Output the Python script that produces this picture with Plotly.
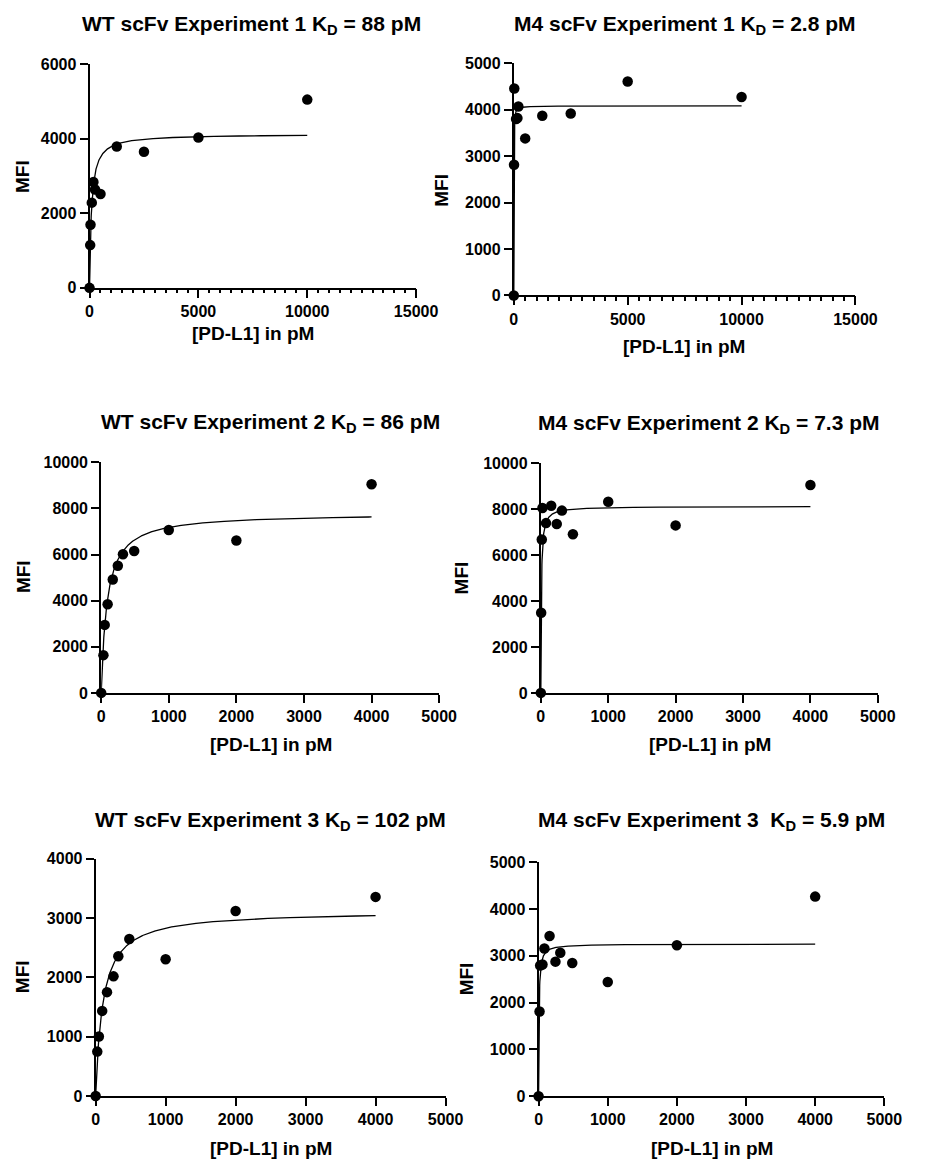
import numpy as np
import plotly.graph_objects as go

W, H = 928, 1171

# ---------------- data ----------------
titles = [
    "WT scFv Experiment 1 K<sub>D</sub> = 88 pM",
    "M4 scFv Experiment 1 K<sub>D</sub> = 2.8 pM",
    "WT scFv Experiment 2 K<sub>D</sub> = 86 pM",
    "M4 scFv Experiment 2 K<sub>D</sub> = 7.3 pM",
    "WT scFv Experiment 3 K<sub>D</sub> = 102 pM",
    "M4 scFv Experiment 3  K<sub>D</sub> = 5.9 pM",
]

wt1_x = [0, 30, 45, 104, 178, 252, 504, 1250, 2500, 5000, 10000]
wt1_y = [0, 1147, 1694, 2286, 2841, 2638, 2520, 3790, 3650, 4033, 5050]

m41_x = [0, 10, 20, 100, 160, 200, 500, 1250, 2500, 5000, 10000]
m41_y = [0, 2815, 4455, 3797, 3818, 4067, 3381, 3868, 3918, 4604, 4272]

wt2_x = [0, 33, 52, 95, 171, 246, 322, 488, 1000, 2000, 4000]
wt2_y = [0, 1638, 2949, 3846, 4915, 5513, 6011, 6154, 7066, 6610, 9046]

m42_x = [0, 5, 14, 24, 77, 154, 236, 313, 476, 1000, 2000, 4000]
m42_y = [0, 3486, 6671, 8043, 7386, 8143, 7343, 7929, 6900, 8314, 7286, 9043]

wt3_x = [0, 23, 46, 93, 162, 255, 324, 481, 1000, 2000, 4000]
wt3_y = [0, 748, 1003, 1435, 1751, 2017, 2355, 2648, 2305, 3119, 3357]

m43_x = [0, 14, 23, 56, 84, 159, 244, 314, 487, 1000, 2000, 4000]
m43_y = [0, 1809, 2791, 2812, 3156, 3422, 2875, 3065, 2847, 2440, 3226, 4264]

# fitted one-site binding parameters (Kd in pM, Bmax in MFI)
kd_vals = [88, 2.8, 86, 7.3, 102, 5.9]
bmax_vals = [4126, 4082, 7794, 8115, 3118, 3252]
fit_xmax = [10000, 10000, 4000, 4000, 4000, 4000]

# tick labels
x_ticks = [
    [0, 5000, 10000, 15000],
    [0, 5000, 10000, 15000],
    [0, 1000, 2000, 3000, 4000, 5000],
    [0, 1000, 2000, 3000, 4000, 5000],
    [0, 1000, 2000, 3000, 4000, 5000],
    [0, 1000, 2000, 3000, 4000, 5000],
]
y_ticks = [
    [0, 2000, 4000, 6000],
    [0, 1000, 2000, 3000, 4000, 5000],
    [0, 2000, 4000, 6000, 8000, 10000],
    [0, 2000, 4000, 6000, 8000, 10000],
    [0, 1000, 2000, 3000, 4000],
    [0, 1000, 2000, 3000, 4000, 5000],
]
minor_step = [500, 500, None, None, None, None]

datasets = [(wt1_x, wt1_y), (m41_x, m41_y), (wt2_x, wt2_y),
            (m42_x, m42_y), (wt3_x, wt3_y), (m43_x, m43_y)]

# ---------------- layout geometry (pixels) ----------------
# (x0, x1, y_bottom, y_top)
boxes = [
    (88, 424, 284, 57),
    (524.5, 876, 291.7, 56),
    (100, 447.7, 695, 461),
    (552.3, 899, 695, 461.7),
    (94.3, 454.3, 1104, 863.3),
    (550, 905.7, 1104.3, 866.7),
]
title_pos = [(255, 17), (700, 17), (274, 421), (725, 422), (274, 825), (728, 825)]
xtitle_pos = [(256, 330), (700, 343), (275, 747), (726, 747), (275, 1157), (728, 1157)]
ytitle_pos = [(19, 171), (450, 185), (20, 577), (471, 578), (19, 983), (476, 985)]

FONT = "Liberation Sans, Arial, sans-serif"

fig = go.Figure()
layout = dict(
    width=W, height=H,
    margin=dict(l=0, r=0, t=0, b=0),
    paper_bgcolor="white", plot_bgcolor="white",
    showlegend=False,
    font=dict(family=FONT, color="black"),
)
annotations = []
extra_axis = 7

for i, ((xs, ys), box) in enumerate(zip(datasets, boxes)):
    n = i + 1
    xa = "x" if n == 1 else f"x{n}"
    ya = "y" if n == 1 else f"y{n}"
    x0, x1, yb, yt = box
    xkey = "xaxis" if n == 1 else f"xaxis{n}"
    ykey = "yaxis" if n == 1 else f"yaxis{n}"

    curve_xa = xa
    if minor_step[i]:
        # overlay axis used only to draw the minor ticks
        m = extra_axis
        extra_axis += 1
        curve_xa = f"x{m}"
        layout[f"xaxis{m}"] = dict(
            domain=[x0 / W, x1 / W], anchor=ya, overlaying=xa,
            range=[0, x_ticks[i][-1]], tickmode="linear", tick0=0,
            dtick=minor_step[i], ticks="outside", ticklen=4.5, tickwidth=1.6,
            tickcolor="black", showticklabels=False, showgrid=False,
            zeroline=False, showline=False, fixedrange=True,
        )

    # fitted curve
    cx = np.linspace(0, fit_xmax[i], 2000)
    cy = bmax_vals[i] * cx / (kd_vals[i] + cx)
    fig.add_trace(go.Scatter(x=cx, y=cy, mode="lines", xaxis=curve_xa, yaxis=ya,
                             line=dict(color="black", width=1.3),
                             hoverinfo="skip", cliponaxis=False))
    # data points
    fig.add_trace(go.Scatter(x=xs, y=ys, mode="markers", xaxis=xa, yaxis=ya,
                             marker=dict(color="black", size=10.5),
                             cliponaxis=False))

    xaxis = dict(
        domain=[x0 / W, x1 / W], anchor=ya, range=[0, x_ticks[i][-1]],
        showgrid=False, zeroline=False, showline=True, linecolor="black",
        linewidth=2, ticks="outside", ticklen=8, tickwidth=2,
        tickcolor="black", tickmode="array", tickvals=x_ticks[i],
        ticktext=[f"<b>{v}</b>" for v in x_ticks[i]],
        tickfont=dict(family=FONT, size=16, color="black"),
        fixedrange=True,
    )
    yaxis = dict(
        domain=[1 - yb / H, 1 - yt / H], anchor=xa, range=[0, y_ticks[i][-1]],
        showgrid=False, zeroline=False, showline=True, linecolor="black",
        linewidth=2, ticks="outside", ticklen=8, tickwidth=2,
        tickcolor="black", tickmode="array", tickvals=y_ticks[i],
        ticktext=[f"<b>{v}</b>" for v in y_ticks[i]],
        tickfont=dict(family=FONT, size=16, color="black"),
        fixedrange=True,
    )
    layout[xkey] = xaxis
    layout[ykey] = yaxis

    tx, ty = title_pos[i]
    annotations.append(dict(text=f"<b>{titles[i]}</b>", x=tx / W, y=1 - ty / H,
                            xref="paper", yref="paper", showarrow=False,
                            xanchor="center", yanchor="middle",
                            font=dict(family=FONT, size=21, color="black")))
    xx, xy = xtitle_pos[i]
    annotations.append(dict(text="<b>[PD-L1] in pM</b>", x=xx / W, y=1 - xy / H,
                            xref="paper", yref="paper", showarrow=False,
                            xanchor="center", yanchor="middle",
                            font=dict(family=FONT, size=19, color="black")))
    yx, yy = ytitle_pos[i]
    annotations.append(dict(text="<b>MFI</b>", x=yx / W, y=1 - yy / H,
                            xref="paper", yref="paper", showarrow=False,
                            xanchor="center", yanchor="middle", textangle=-90,
                            font=dict(family=FONT, size=19, color="black")))

layout["annotations"] = annotations
fig.update_layout(**layout)
fig.write_html("out.html")
